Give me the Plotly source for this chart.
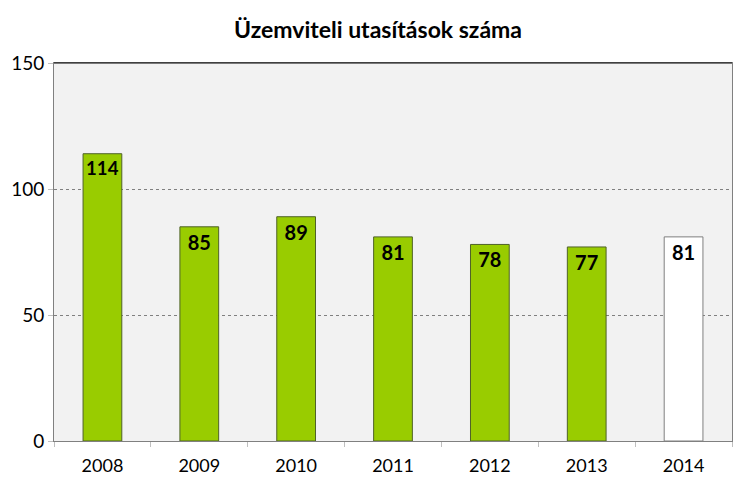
import plotly.graph_objects as go

years = ["2008", "2009", "2010", "2011", "2012", "2013", "2014"]
values = [114, 85, 89, 81, 78, 77, 81]
fill_colors = ["#99cc00"] * 6 + ["#ffffff"]
line_colors = ["#4f6228"] * 6 + ["#7f7f7f"]

fig = go.Figure(go.Bar(
    x=years, y=values,
    marker=dict(color=fill_colors, line=dict(color=line_colors, width=1)),
    width=0.4,
    text=[str(v) for v in values],
    textposition="inside",
    insidetextanchor="end",
    textangle=0,
    textfont=dict(family="Lato", size=20, color="black", weight="bold"),
    cliponaxis=False,
))

fig.update_layout(
    width=756, height=494,
    margin=dict(l=54, r=24, t=63, b=53),
    paper_bgcolor="white",
    plot_bgcolor="#f2f2f2",
    title=dict(text="<b>Üzemviteli utasítások száma</b>", x=0.5, xanchor="center",
               y=0.94, yanchor="middle", font=dict(family="Lato", size=23, color="black")),
    showlegend=False,
    font=dict(family="Lato", size=18, color="black"),
)
fig.update_xaxes(
    showgrid=False, showline=True, linecolor="#808080", linewidth=1,
    ticks="outside", tickcolor="#bfbfbf", ticklen=5, tickson="boundaries",
    tickfont=dict(size=18), mirror=True, ticklabelstandoff=8,
)
fig.update_yaxes(
    range=[0, 150], tickvals=[0, 50, 100, 150],
    showgrid=True, gridcolor="#808080", griddash="dot", gridwidth=1,
    showline=True, linecolor="#808080", linewidth=1, mirror=True,
    ticks="outside", tickcolor="#bfbfbf", ticklen=5,
    tickfont=dict(size=19), zeroline=False,
)
fig.add_shape(type="line", xref="paper", yref="paper", x0=0, x1=1, y0=1, y1=1,
              line=dict(color="black", width=1))
fig.write_html("out.html")
